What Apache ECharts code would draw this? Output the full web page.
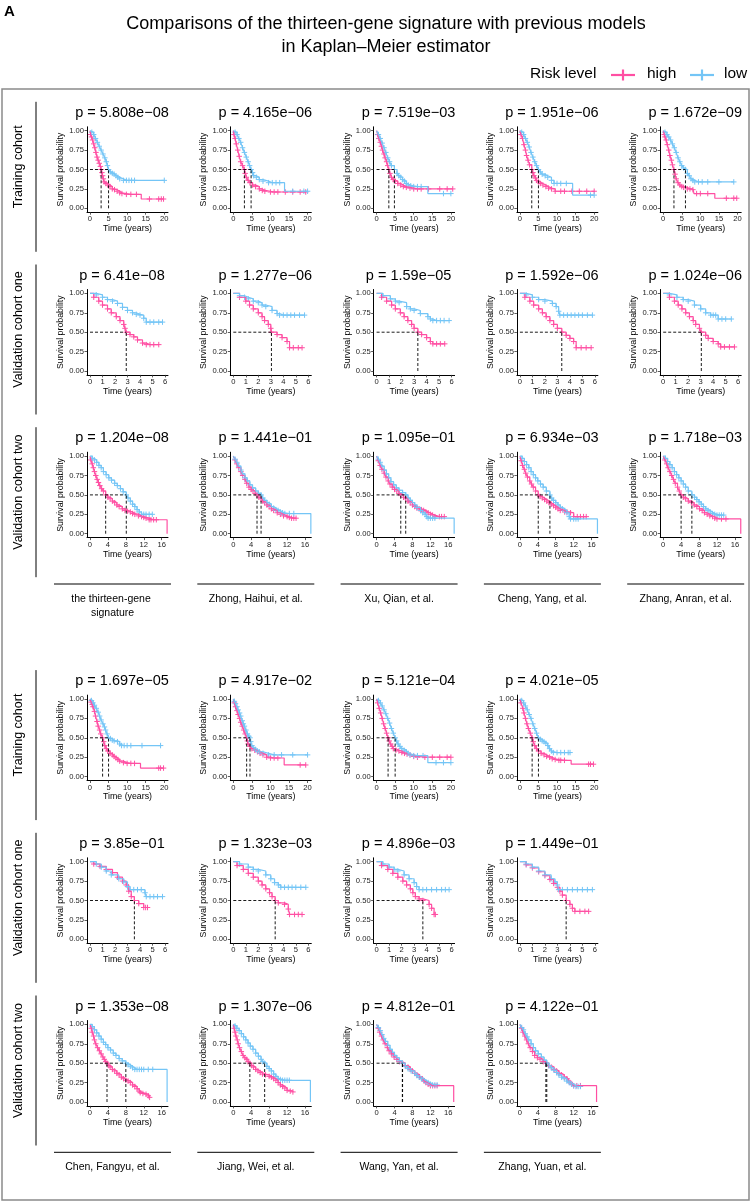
<!DOCTYPE html>
<html><head><meta charset="utf-8">
<script src="https://cdn.jsdelivr.net/npm/echarts@6.0.0/dist/echarts.min.js"></script>
<style>html,body{margin:0;padding:0;background:#fff}#c{width:752px;height:1203px}</style>
</head><body><div id="c"></div><script>
// ---------- DATA ----------
const models = ['the thirteen-gene signature','Zhong, Haihui, et al.','Xu, Qian, et al.','Cheng, Yang, et al.','Zhang, Anran, et al.','Chen, Fangyu, et al.','Jiang, Wei, et al.','Wang, Yan, et al.','Zhang, Yuan, et al.'];
const cohorts = ['Training cohort','Validation cohort one','Validation cohort two'];
const riskLevels = ['high','low'];
const ticksTrain = [0,5,10,15,20];
const ticksVal1 = [0,1,2,3,4,5,6];
const ticksVal2 = [0,4,8,12,16];
const yTicks = [0,0.25,0.5,0.75,1];
const pTrain = ['5.808e\u221208','4.165e\u221206','7.519e\u221203','1.951e\u221206','1.672e\u221209','1.697e\u221205','4.917e\u221202','5.121e\u221204','4.021e\u221205'];
const pVal1 = ['6.41e\u221208','1.277e\u221206','1.59e\u221205','1.592e\u221206','1.024e\u221206','3.85e\u221201','1.323e\u221203','4.896e\u221203','1.449e\u221201'];
const pVal2 = ['1.204e\u221208','1.441e\u221201','1.095e\u221201','6.934e\u221203','1.718e\u221203','1.353e\u221208','1.307e\u221206','4.812e\u221201','4.122e\u221201'];

// points: [time, survival] ; third value 0 = no censor mark
const highTrain = [
 [[0,1],[0.2,0.95],[0.4,0.92],[0.7,0.88],[1,0.83],[1.3,0.78],[1.6,0.72],[1.9,0.66],[2.2,0.62],[2.5,0.58],[2.8,0.54],[3,0.5],[3.2,0.46],[3.4,0.42],[3.6,0.38],[3.8,0.34],[4.3,0.32],[4.8,0.3],[5.4,0.28],[6,0.25],[6.6,0.24],[7.3,0.22],[8,0.2],[8.6,0.19],[9.8,0.18],[11,0.18],[12.5,0.18],[13.8,0.12,0],[16,0.12],[18.5,0.12],[19.2,0.12],[19.8,0.12]],
 [[0,1],[0.2,0.95],[0.5,0.9],[0.8,0.83],[1.2,0.75],[1.6,0.67],[2,0.6],[2.5,0.55],[3,0.5],[3.2,0.45],[3.5,0.4],[4,0.36],[4.5,0.33],[5.2,0.3],[6,0.28],[7,0.25],[7.8,0.23],[8.5,0.22],[10,0.21],[11,0.21],[12,0.21],[14,0.21],[16,0.21],[18,0.21],[19.5,0.21]],
 [[0,1],[0.3,0.95],[0.6,0.9],[1,0.85],[1.3,0.8],[1.6,0.75],[2,0.7],[2.3,0.65],[2.7,0.6],[3,0.55],[3.3,0.5],[3.6,0.45],[4,0.4],[4.5,0.37],[5,0.35],[5.7,0.32],[6.5,0.3],[7.2,0.28],[8,0.27],[9,0.26],[10,0.25],[11,0.25],[12,0.25],[14,0.25],[17,0.25],[19,0.25],[20.5,0.25]],
 [[0,1],[0.3,0.95],[0.7,0.9],[1.1,0.82],[1.5,0.75],[1.8,0.68],[2.2,0.62],[2.6,0.56],[3.2,0.5],[3.5,0.46],[3.8,0.42],[4.2,0.39],[4.5,0.36],[5,0.34],[5.5,0.32],[6.2,0.3],[7,0.28],[7.7,0.26],[8.5,0.25],[9.5,0.22],[11,0.22],[12,0.22],[14,0.22],[16,0.22],[18,0.22],[20,0.22]],
 [[0,1],[0.3,0.95],[0.5,0.92],[0.8,0.88],[1.1,0.82],[1.5,0.75],[1.8,0.68],[2.2,0.62],[2.5,0.56],[2.9,0.5],[3.2,0.44],[3.5,0.38],[4,0.33],[4.5,0.3],[5,0.28],[5.5,0.27],[6.5,0.25],[7.2,0.25],[8,0.24],[8.3,0.19,0],[9,0.19],[10,0.19],[12,0.19],[13.9,0.13,0],[17,0.13],[19,0.13],[19.8,0.13]],
 [[0,1],[0.3,0.96],[0.6,0.93],[0.8,0.9],[1.2,0.84],[1.5,0.78],[1.9,0.71],[2.2,0.65],[2.6,0.6],[2.9,0.55],[3.4,0.5],[3.7,0.45],[4,0.4],[4.4,0.36],[4.8,0.33],[5.4,0.3],[6,0.28],[6.5,0.26],[7,0.24],[7.5,0.22],[8,0.2],[9,0.18],[10,0.17],[11,0.17],[12,0.17],[13.6,0.11,0],[18.5,0.11],[19,0.11],[19.8,0.11]],
 [[0,1],[0.3,0.95],[0.6,0.9],[1,0.85],[1.3,0.8],[1.7,0.75],[2,0.7],[2.4,0.65],[2.8,0.6],[3.2,0.55],[3.6,0.5],[3.8,0.46],[4,0.42],[4.5,0.39],[5,0.36],[5.8,0.34],[6.5,0.32],[7.2,0.3],[8,0.28],[9,0.25],[10,0.24],[11,0.24],[12,0.24],[13.7,0.15,0],[18,0.15],[19.5,0.15]],
 [[0,1],[0.3,0.95],[0.7,0.88],[1.1,0.82],[1.5,0.75],[1.9,0.68],[2.3,0.62],[2.7,0.56],[3.1,0.5],[3.4,0.46],[3.8,0.42],[4.2,0.39],[4.5,0.36],[5.2,0.34],[6,0.33],[6.8,0.31],[7.5,0.3],[8.2,0.29],[9,0.28],[10,0.26],[11,0.25],[13,0.25],[15,0.25],[17,0.25],[19,0.25],[20,0.25]],
 [[0,1],[0.3,0.95],[0.8,0.88],[1.1,0.82],[1.5,0.75],[1.9,0.68],[2.3,0.62],[2.8,0.56],[3.3,0.5],[3.6,0.45],[4,0.4],[4.5,0.36],[5,0.33],[5.7,0.3],[6.5,0.28],[7.2,0.26],[8,0.25],[8.7,0.23],[9.5,0.22],[10.5,0.21],[11,0.21],[12,0.21],[13.8,0.16,0],[18.5,0.16],[19,0.16],[19.8,0.16]]
];
const lowTrain = [
 [[0,1],[0.5,0.98],[1,0.95],[1.5,0.9],[2,0.85],[2.5,0.8],[3,0.75],[3.5,0.7],[4,0.65],[4.4,0.6],[4.7,0.55],[5,0.5],[5.5,0.47],[6,0.45],[6.5,0.44],[7,0.42],[7.5,0.4],[8,0.38],[9,0.36],[9.8,0.36],[10.5,0.36],[11.2,0.36],[12,0.36],[20,0.36]],
 [[0,1],[0.5,0.98],[1,0.95],[1.5,0.9],[2,0.85],[2.5,0.78],[3,0.72],[3.5,0.66],[4,0.6],[4.4,0.55],[4.8,0.5],[5.2,0.46],[5.5,0.42],[6.2,0.4],[7,0.37],[8,0.35],[9.5,0.33],[10.5,0.33],[11.5,0.33],[12.5,0.33],[13.8,0.22,0],[16,0.22],[19,0.22],[20,0.22]],
 [[0,1],[0.5,0.95],[1,0.9],[1.5,0.84],[2,0.78],[2.5,0.72],[3,0.65],[3.5,0.6],[4,0.55],[4.8,0.5],[5.5,0.45],[6,0.42],[6.5,0.4],[7,0.37],[7.5,0.35],[8,0.32],[8.5,0.3],[9.2,0.29],[10,0.28],[11,0.28],[12,0.28],[13.8,0.19,0],[18,0.19],[20,0.19]],
 [[0,1],[0.5,0.98],[1,0.95],[1.5,0.9],[2,0.85],[2.5,0.79],[3,0.72],[3.5,0.66],[4,0.6],[4.5,0.55],[5,0.5],[5.5,0.47],[6,0.44],[6.8,0.42],[7.5,0.4],[8.5,0.36],[9.2,0.32],[10,0.32],[11,0.32],[12.5,0.32],[14.2,0.17,0],[19,0.17],[20,0.17]],
 [[0,1],[0.5,0.98],[1,0.95],[1.5,0.92],[2,0.88],[2.5,0.83],[3,0.78],[3.5,0.72],[4,0.65],[4.5,0.6],[5,0.55],[5.5,0.52],[6,0.5],[6.5,0.45],[7,0.42],[7.5,0.38],[8,0.36],[8.5,0.34],[9.5,0.34],[10.5,0.34],[12,0.34],[15,0.34],[19,0.34]],
 [[0,1],[0.4,0.98],[0.8,0.95],[1.2,0.92],[1.7,0.88],[2.2,0.83],[2.6,0.78],[3,0.73],[3.5,0.68],[3.9,0.64],[4.2,0.6],[4.6,0.55],[5,0.5],[5.5,0.49],[6,0.47],[6.5,0.46],[7.4,0.45],[8,0.42],[8.5,0.4],[9.2,0.4],[10,0.4],[11,0.4],[14,0.4],[19,0.4]],
 [[0,1],[0.3,0.97],[0.6,0.94],[1,0.9],[1.3,0.86],[1.7,0.82],[2,0.78],[2.4,0.72],[2.7,0.68],[3,0.65],[3.4,0.6],[3.8,0.55],[4.2,0.52],[4.5,0.5],[4.7,0.45],[5,0.4],[5.5,0.37],[6,0.35],[6.5,0.33],[7,0.32],[8,0.3],[9.5,0.28],[11,0.28],[13,0.28],[16,0.28],[20,0.28]],
 [[0,1],[0.5,0.98],[1,0.95],[1.5,0.91],[2,0.86],[2.5,0.81],[3,0.75],[3.5,0.69],[4,0.62],[4.5,0.56],[5,0.5],[5.4,0.46],[5.8,0.42],[6.3,0.39],[6.8,0.36],[7.4,0.34],[8,0.32],[8.5,0.3],[9,0.28],[10,0.27],[11,0.27],[12.5,0.27],[13.8,0.18,0],[16,0.18],[18,0.18],[20,0.18]],
 [[0,1],[0.5,0.98],[1,0.95],[1.5,0.91],[2,0.86],[2.5,0.8],[3,0.75],[3.5,0.68],[4,0.62],[4.5,0.56],[5,0.5],[5.5,0.48],[6,0.46],[6.5,0.45],[7,0.43],[7.5,0.4],[8,0.36],[8.5,0.33],[9,0.31],[10,0.31],[11,0.31],[12,0.31],[13,0.31],[13.5,0.31]]
];
const highVal1 = [
 [[0,1],[0.3,0.95],[0.7,0.9],[1.0,0.85],[1.4,0.8],[1.7,0.75],[2.1,0.7],[2.4,0.65],[2.7,0.6],[2.8,0.55],[2.9,0.5],[3.2,0.47],[3.5,0.44],[3.8,0.4],[4.2,0.36],[4.5,0.34],[4.8,0.34],[5.1,0.34],[5.5,0.34]],
 [[0,1],[0.5,0.95],[1,0.9],[1.3,0.85],[1.6,0.8],[2,0.75],[2.3,0.7],[2.5,0.65],[2.8,0.6],[3.0,0.55],[3.05,0.5],[3.5,0.47],[3.9,0.43],[4.3,0.38],[4.5,0.3],[4.8,0.3],[5.2,0.3],[5.5,0.3]],
 [[0,1],[0.4,0.95],[0.8,0.9],[1.2,0.85],[1.5,0.8],[1.9,0.75],[2.2,0.7],[2.5,0.65],[2.8,0.6],[3.0,0.55],[3.3,0.5],[3.6,0.47],[4,0.43],[4.3,0.38],[4.5,0.35],[4.8,0.35],[5.1,0.35],[5.45,0.35]],
 [[0,1],[0.4,0.95],[0.8,0.9],[1.1,0.85],[1.5,0.8],[1.8,0.75],[2.1,0.7],[2.4,0.65],[2.7,0.6],[3.0,0.55],[3.35,0.5],[3.7,0.46],[4.0,0.42],[4.3,0.38],[4.5,0.3],[4.9,0.3],[5.3,0.3],[5.7,0.3]],
 [[0,1],[0.5,0.95],[0.9,0.9],[1.2,0.85],[1.5,0.8],[1.8,0.75],[2.1,0.7],[2.4,0.65],[2.6,0.6],[2.9,0.55],[3.05,0.5],[3.4,0.46],[3.6,0.42],[4.0,0.38],[4.4,0.35],[4.6,0.31],[4.9,0.31],[5.3,0.31],[5.7,0.31]],
 [[0,1],[0.3,0.97],[0.8,0.94],[1.3,0.9],[1.8,0.86],[2.2,0.8],[2.6,0.75],[2.9,0.7],[3.1,0.62],[3.3,0.55],[3.55,0.5],[3.9,0.46],[4.3,0.41],[4.45,0.41],[4.6,0.41]],
 [[0,1],[0.3,0.95],[0.8,0.9],[1.2,0.85],[1.6,0.8],[2,0.75],[2.3,0.7],[2.6,0.65],[2.9,0.6],[3.1,0.55],[3.35,0.5],[3.6,0.47],[4.1,0.45],[4.4,0.39],[4.5,0.32],[4.9,0.32],[5.2,0.32],[5.5,0.32]],
 [[0,1],[0.4,0.95],[0.9,0.9],[1.3,0.85],[1.7,0.8],[2.1,0.75],[2.4,0.7],[2.7,0.65],[2.9,0.6],[3.1,0.55],[3.4,0.52],[3.7,0.5],[4.2,0.45],[4.4,0.4],[4.6,0.32],[4.7,0.32]],
 [[0,1],[0.5,0.96],[1,0.92],[1.5,0.87],[2,0.82],[2.4,0.77],[2.7,0.72],[3,0.67],[3.2,0.62],[3.4,0.57],[3.7,0.5],[4,0.45],[4.2,0.4],[4.4,0.36],[4.8,0.36],[5.2,0.36],[5.5,0.36]]
];
const lowVal1 = [
 [[0,1],[0.5,0.98],[1,0.95],[1.4,0.92],[1.8,0.9],[2.2,0.87],[2.6,0.82],[3,0.78],[3.4,0.75],[3.7,0.73],[4,0.72],[4.3,0.68],[4.5,0.63],[4.8,0.63],[5.1,0.63],[5.5,0.63],[5.8,0.63]],
 [[0,1],[0.5,0.97],[0.9,0.95],[1.2,0.93],[1.6,0.9],[2,0.88],[2.3,0.85],[2.6,0.83],[3.1,0.78],[3.5,0.74],[3.7,0.72],[4,0.72],[4.3,0.72],[4.6,0.72],[4.9,0.72],[5.3,0.72],[5.7,0.72]],
 [[0,1],[0.5,0.97],[1.1,0.93],[1.5,0.9],[1.8,0.88],[2.4,0.83],[2.7,0.8],[3,0.78],[3.5,0.74],[4.1,0.7],[4.3,0.67],[4.5,0.65],[4.8,0.65],[5.1,0.65],[5.4,0.65],[5.8,0.65]],
 [[0,1],[0.5,0.98],[1,0.95],[1.5,0.92],[2,0.9],[2.6,0.87],[2.9,0.83],[3.1,0.77],[3.2,0.72],[3.5,0.72],[3.8,0.72],[4.1,0.72],[4.4,0.72],[4.7,0.72],[5,0.72],[5.4,0.72],[5.8,0.72]],
 [[0,1],[0.5,0.98],[1.1,0.95],[1.6,0.92],[2,0.9],[2.5,0.85],[3,0.8],[3.4,0.75],[3.8,0.72],[4.0,0.72],[4.2,0.72],[4.4,0.67],[4.7,0.67],[5,0.67],[5.45,0.67]],
 [[0,1],[0.5,0.97],[0.9,0.93],[1.3,0.88],[1.7,0.83],[2.3,0.78],[2.7,0.74],[3,0.68],[3.2,0.64],[3.5,0.64],[3.8,0.64],[4.1,0.64],[4.4,0.6],[4.5,0.55],[4.8,0.55],[5.1,0.55],[5.4,0.55],[5.8,0.55]],
 [[0,1],[0.5,0.97],[1.2,0.93],[1.6,0.9],[2,0.88],[2.6,0.83],[3,0.78],[3.3,0.73],[3.6,0.7],[3.8,0.67],[4.1,0.67],[4.4,0.67],[4.7,0.67],[5,0.67],[5.4,0.67],[5.8,0.67]],
 [[0,1],[0.5,0.97],[1,0.93],[1.4,0.9],[1.7,0.88],[2.2,0.83],[2.6,0.78],[3,0.73],[3.2,0.68],[3.4,0.64],[3.7,0.64],[4,0.64],[4.4,0.64],[4.8,0.64],[5.2,0.64],[5.5,0.64],[5.8,0.64]],
 [[0,1],[0.5,0.97],[1,0.93],[1.5,0.88],[2,0.83],[2.5,0.78],[2.8,0.74],[3,0.7],[3.1,0.64],[3.4,0.64],[3.8,0.64],[4.2,0.64],[4.6,0.64],[5,0.64],[5.4,0.64],[5.8,0.64]]
];
const highVal2 = [
 [[0,1],[0.2,0.95],[0.5,0.9],[0.75,0.85],[1,0.8],[1.3,0.75],[1.6,0.7],[1.9,0.66],[2.2,0.62],[2.6,0.58],[3,0.55],[3.5,0.5],[4,0.47],[4.5,0.45],[5,0.42],[5.5,0.4],[6,0.37],[6.5,0.35],[7.2,0.32],[7.8,0.3],[8.4,0.29],[9,0.28],[9.5,0.26],[10,0.25],[10.8,0.23],[11.5,0.22],[12,0.21],[12.5,0.2],[13.2,0.18],[13.6,0.18],[14.2,0.18],[14.8,0.18],[17.2,0,0]],
 [[0,1],[0.4,0.95],[0.8,0.9],[1.2,0.85],[1.7,0.8],[2.1,0.75],[2.6,0.7],[3,0.65],[3.5,0.6],[4,0.57],[4.4,0.55],[4.9,0.52],[5.3,0.5],[5.7,0.47],[6.2,0.45],[6.6,0.42],[7,0.4],[7.5,0.37],[8,0.35],[8.5,0.32],[9,0.3],[9.8,0.27],[10.5,0.25],[11.2,0.23],[12,0.22],[12.5,0.21],[13,0.2],[13.5,0.2],[14,0.2]],
 [[0,1],[0.4,0.94],[0.8,0.88],[1.2,0.83],[1.7,0.78],[2.1,0.73],[2.6,0.68],[3,0.64],[3.5,0.6],[4,0.57],[4.5,0.55],[5,0.52],[5.4,0.5],[6,0.47],[6.5,0.45],[7,0.42],[7.5,0.4],[8,0.37],[8.5,0.35],[9,0.33],[9.5,0.32],[10,0.31],[10.5,0.3],[11,0.28],[11.5,0.27],[12,0.25],[12.5,0.24],[13,0.22],[14,0.22],[14.5,0.22],[15.1,0.22]],
 [[0,1],[0.3,0.94],[0.6,0.88],[1,0.83],[1.3,0.78],[1.7,0.73],[2.2,0.68],[2.6,0.64],[3,0.6],[3.5,0.55],[4.1,0.5],[4.5,0.48],[5,0.46],[5.5,0.44],[6,0.42],[6.5,0.4],[7,0.38],[7.5,0.36],[8,0.34],[8.5,0.32],[9,0.3],[10,0.28],[10.5,0.28],[11.3,0.27],[12,0.22],[12.8,0.22],[13.5,0.22],[14.2,0.22],[14.8,0.22]],
 [[0,1],[0.4,0.95],[0.8,0.9],[1.1,0.85],[1.5,0.8],[1.9,0.75],[2.3,0.7],[2.7,0.65],[3.2,0.6],[3.6,0.55],[4,0.5],[4.5,0.47],[5,0.45],[5.6,0.42],[6.3,0.4],[6.9,0.37],[7.5,0.35],[8.1,0.32],[8.7,0.3],[9.2,0.27],[9.8,0.25],[10.4,0.23],[11,0.22],[11.5,0.2],[12,0.19],[13,0.19],[14,0.19],[17.3,0,0]],
 [[0,1],[0.3,0.95],[0.5,0.9],[0.8,0.85],[1,0.8],[1.3,0.75],[1.7,0.7],[2.1,0.66],[2.5,0.62],[2.9,0.58],[3.2,0.55],[3.5,0.52],[3.8,0.5],[4.2,0.47],[4.5,0.45],[5,0.42],[5.5,0.4],[6,0.37],[6.5,0.35],[7,0.32],[7.5,0.3],[8,0.28],[8.5,0.27],[9,0.25],[9.5,0.22],[10,0.2],[10.5,0.17],[11,0.14],[11.2,0.12],[11.8,0.11],[12.5,0.1],[13,0.08],[13.3,0.06]],
 [[0,1],[0.2,0.95],[0.4,0.9],[0.6,0.85],[0.9,0.8],[1.1,0.75],[1.4,0.7],[1.8,0.65],[2.2,0.6],[2.6,0.57],[3,0.55],[3.3,0.52],[3.7,0.5],[4.1,0.47],[4.5,0.45],[5,0.42],[5.5,0.4],[6,0.38],[6.5,0.36],[7.2,0.35],[8,0.33],[8.5,0.32],[9,0.3],[9.5,0.28],[10,0.25],[10.5,0.22],[11,0.2],[11.5,0.18],[12,0.15],[12.7,0.14],[13.3,0.13]],
 [[0,1],[0.4,0.95],[0.7,0.9],[1.1,0.85],[1.5,0.8],[1.9,0.75],[2.4,0.7],[2.8,0.66],[3.3,0.62],[3.9,0.58],[4.5,0.55],[5.1,0.52],[5.8,0.5],[6.4,0.47],[7,0.45],[7.5,0.42],[8,0.4],[8.5,0.37],[9,0.35],[9.6,0.32],[10.2,0.3],[10.6,0.27],[11,0.25],[11.5,0.23],[12,0.21],[12.5,0.21],[13,0.21],[13.5,0.21],[17.2,0,0]],
 [[0,1],[0.4,0.95],[0.7,0.9],[1.1,0.85],[1.5,0.8],[1.9,0.75],[2.3,0.7],[2.8,0.65],[3.3,0.6],[3.9,0.57],[4.5,0.55],[5.2,0.52],[5.8,0.5],[6.4,0.47],[7,0.45],[7.6,0.42],[8.2,0.4],[8.7,0.37],[9.3,0.35],[9.9,0.32],[10.5,0.3],[10.9,0.27],[11.2,0.25],[11.6,0.23],[12,0.21],[12.7,0.21],[13.5,0.21],[17.1,0,0]]
];
const lowVal2 = [
 [[0,1],[0.5,0.97],[1,0.95],[1.5,0.92],[2,0.88],[2.5,0.85],[3,0.8],[3.6,0.76],[4.2,0.72],[4.8,0.69],[5.5,0.65],[6.1,0.62],[6.8,0.58],[7.4,0.54],[8.1,0.5],[8.5,0.46],[9,0.42],[9.5,0.38],[10,0.35],[10.5,0.31],[11,0.28],[11.5,0.25],[12,0.25],[12.5,0.25],[13.2,0.25],[13.9,0.25]],
 [[0,1],[0.4,0.96],[0.8,0.92],[1.2,0.87],[1.7,0.82],[2.1,0.77],[2.6,0.72],[3.1,0.68],[3.7,0.63],[4.3,0.59],[5,0.55],[5.6,0.52],[6.2,0.5],[6.6,0.46],[7,0.43],[7.5,0.4],[8,0.38],[8.5,0.35],[9,0.33],[9.5,0.31],[10,0.3],[10.5,0.28],[11,0.27],[11.5,0.26],[12.5,0.26],[13.5,0.26],[17.3,0,0]],
 [[0,1],[0.4,0.96],[0.8,0.92],[1.2,0.87],[1.7,0.82],[2.2,0.77],[2.7,0.72],[3.2,0.67],[3.8,0.63],[4.4,0.59],[5,0.56],[5.8,0.53],[6.5,0.5],[7,0.46],[7.5,0.43],[8,0.4],[8.5,0.37],[9,0.34],[9.8,0.3],[10.3,0.27],[10.8,0.25],[11.2,0.22],[11.5,0.2],[12,0.2],[12.5,0.2],[13,0.2],[17.3,0,0]],
 [[0,1],[0.5,0.97],[1,0.93],[1.5,0.89],[2,0.85],[2.5,0.8],[3,0.76],[3.5,0.72],[4,0.68],[4.6,0.64],[5.2,0.6],[5.9,0.55],[6.7,0.5],[7.1,0.46],[7.5,0.43],[8,0.4],[8.5,0.37],[9,0.34],[9.5,0.32],[10,0.3],[10.5,0.27],[11,0.22],[11.3,0.19],[12,0.19],[12.5,0.19],[13,0.19],[17.3,0,0]],
 [[0,1],[0.5,0.97],[1,0.93],[1.5,0.89],[2,0.85],[2.5,0.8],[3,0.76],[3.5,0.72],[4,0.68],[4.5,0.64],[5,0.6],[5.6,0.55],[6.4,0.5],[7,0.47],[7.5,0.44],[8,0.41],[8.5,0.38],[9,0.35],[9.5,0.32],[10,0.3],[10.5,0.28],[11,0.26],[11.5,0.25],[12,0.24],[12.5,0.24],[13,0.24],[13.5,0.24]],
 [[0,1],[0.5,0.97],[1,0.93],[1.5,0.89],[2,0.85],[2.5,0.81],[3,0.77],[3.5,0.74],[4,0.7],[4.6,0.67],[5.2,0.63],[5.8,0.6],[6.5,0.56],[7.2,0.53],[8,0.5],[8.5,0.48],[9,0.46],[9.5,0.44],[10,0.42],[10.5,0.42],[11,0.42],[11.5,0.42],[12,0.42],[13,0.42],[14,0.42],[17.2,0,0]],
 [[0,1],[0.4,0.98],[0.8,0.95],[1.3,0.92],[1.8,0.88],[2.3,0.84],[2.8,0.8],[3.3,0.76],[3.8,0.72],[4.4,0.68],[5,0.63],[5.6,0.59],[6.2,0.55],[6.6,0.52],[7,0.5],[7.5,0.46],[8,0.43],[8.5,0.4],[9,0.36],[9.5,0.33],[10,0.3],[10.5,0.29],[11,0.28],[11.5,0.28],[12,0.28],[12.5,0.28],[17.2,0,0]],
 [[0,1],[0.4,0.96],[0.8,0.92],[1.2,0.87],[1.6,0.82],[2,0.78],[2.5,0.73],[3,0.68],[3.5,0.64],[4,0.6],[4.5,0.57],[5.1,0.53],[5.75,0.5],[6.4,0.46],[7,0.43],[7.7,0.4],[8.5,0.37],[9,0.34],[9.5,0.32],[10,0.3],[10.5,0.28],[11,0.26],[11.5,0.25],[12,0.23],[12.5,0.22],[13,0.22],[13.5,0.22]],
 [[0,1],[0.4,0.96],[0.8,0.93],[1.2,0.88],[1.6,0.84],[2,0.8],[2.5,0.75],[3,0.7],[3.5,0.66],[4.1,0.62],[4.8,0.58],[5.4,0.54],[6,0.5],[6.5,0.47],[7,0.44],[7.6,0.41],[8.2,0.38],[8.7,0.35],[9.3,0.32],[9.9,0.3],[10.5,0.27],[11,0.25],[11.5,0.23],[12,0.21],[12.5,0.2],[13,0.2],[13.5,0.2]]
];

// ---------- LAYOUT / STYLE ----------
const FONT = '"Liberation Sans", Arial, Helvetica, sans-serif';
const PINK = '#FF4FA3', BLUE = '#74C5F6';
const cohortData = [
  {high: highTrain, low: lowTrain, p: pTrain, ticks: ticksTrain, xr: [-0.8, 21]},
  {high: highVal1, low: lowVal1, p: pVal1, ticks: ticksVal1, xr: [-0.24, 6.24]},
  {high: highVal2, low: lowVal2, p: pVal2, ticks: ticksVal2, xr: [-0.66, 17.4]}
];
const COL0 = 87, COLW = 143.3, PW = 81, PH = 85.4;
const BLOCK_TOP = [126.8, 695.1], ROWH = 162.7;
const PLUS = 'path://M5,0L5,10M0,5L10,5';

const grids = [], xAxes = [], yAxes = [], series = [], graphics = [];
function median(pts){ for (const p of pts) if (p[1] <= 0.5) return p[0]; return null; }
function addCurve(pts, color, gi){
  series.push({type:'line', xAxisIndex:gi, yAxisIndex:gi, step:'end', symbol:'none', silent:true,
    lineStyle:{color, width:1.2}, data: pts.map(p => [p[0], p[1]])});
  series.push({type:'scatter', xAxisIndex:gi, yAxisIndex:gi, symbol:PLUS, symbolSize:5.5, silent:true,
    itemStyle:{color:color, borderColor:color, borderWidth:1, opacity:1},
    data: pts.filter(p => p[2] !== 0 && p[0] !== 0).map(p => [p[0], p[1]])});
}
function dashed(data, gi){
  return {type:'line', xAxisIndex:gi, yAxisIndex:gi, symbol:'none', silent:true, z:5,
    lineStyle:{color:'#000', width:0.9, type:[3,2]}, data};
}

let gi = 0;
for (let b = 0; b < 2; b++) {
  const nCols = b === 0 ? 5 : 4;
  for (let r = 0; r < 3; r++) {
    const cd = cohortData[r];
    const top = BLOCK_TOP[b] + r * ROWH;
    for (let c = 0; c < nCols; c++) {
      const m = b * 5 + c;
      const left = COL0 + c * COLW;
      grids.push({left, top, width: PW, height: PH});
      xAxes.push({type:'value', gridIndex:gi, min:cd.xr[0], max:cd.xr[1],
        axisLine:{onZero:false, lineStyle:{color:'#000', width:1}},
        axisTick:{customValues:cd.ticks, length:2.5, lineStyle:{color:'#333', width:0.8}},
        axisLabel:{customValues:cd.ticks, fontSize:7.6, color:'#222', margin:3, fontFamily:FONT},
        splitLine:{show:false},
        name:'Time (years)', nameLocation:'middle', nameGap:12,
        nameTextStyle:{fontSize:8.8, color:'#000', fontFamily:FONT}});
      yAxes.push({type:'value', gridIndex:gi, min:-0.05, max:1.05,
        axisLine:{onZero:false, lineStyle:{color:'#000', width:1}},
        axisTick:{customValues:yTicks, length:2.5, lineStyle:{color:'#333', width:0.8}},
        axisLabel:{customValues:yTicks, fontSize:7.6, color:'#222', margin:3, fontFamily:FONT,
          formatter: v => v.toFixed(2)},
        splitLine:{show:false},
        name:'Survival probability', nameLocation:'middle', nameGap:22, nameRotate:90,
        nameTextStyle:{fontSize:8.8, color:'#000', fontFamily:FONT}});
      addCurve(cd.high[m], PINK, gi);
      addCurve(cd.low[m], BLUE, gi);
      const meds = [median(cd.high[m]), median(cd.low[m])].filter(v => v != null);
      if (meds.length) {
        series.push(dashed([[0,0.5],[Math.max(...meds),0.5]], gi));
        meds.forEach(v => series.push(dashed([[v,0],[v,0.5]], gi)));
      }
      graphics.push({type:'text', x:left+35, y:top-14, style:{text:'p = ' + cd.p[m], fontSize:14.5,
        fontFamily:FONT, fill:'#000', align:'center', verticalAlign:'middle'}});
      gi++;
    }
    graphics.push({type:'text', x:19, y:top+40, rotation:Math.PI/2, style:{text:cohorts[r], fontSize:12.5,
      fontFamily:FONT, fill:'#000', align:'center', verticalAlign:'middle'}});
    graphics.push({type:'line', shape:{x1:36, y1:top-25, x2:36, y2:top+125}, style:{stroke:'#000', lineWidth:1}});
  }
  const lineY = BLOCK_TOP[b] + 2 * ROWH + PH + 46.4;
  for (let c = 0; c < nCols; c++) {
    const left = COL0 + c * COLW;
    graphics.push({type:'line', shape:{x1:left-33, y1:lineY, x2:left+84, y2:lineY}, style:{stroke:'#000', lineWidth:1}});
    graphics.push({type:'text', x:left+25.5, y:lineY+8, style:{text:models[b*5+c], fontSize:10.5, width:117,
      overflow:'break', lineHeight:14, fontFamily:FONT, fill:'#000', align:'center', verticalAlign:'top'}});
  }
}
graphics.push({type:'rect', shape:{x:2, y:89, width:747, height:1111}, style:{fill:'none', stroke:'#8a8a8a', lineWidth:1.5}});
graphics.push({type:'text', x:4, y:4, style:{text:'A', fontSize:15, fontWeight:'bold', fontFamily:FONT, fill:'#000'}});
graphics.push({type:'text', x:386, y:24, style:{text:'Comparisons of the thirteen-gene signature with previous models', fontSize:18, fontFamily:FONT, fill:'#000', align:'center', verticalAlign:'middle'}});
graphics.push({type:'text', x:386, y:47, style:{text:'in Kaplan\u2013Meier estimator', fontSize:18, fontFamily:FONT, fill:'#000', align:'center', verticalAlign:'middle'}});
graphics.push({type:'text', x:530, y:74, style:{text:'Risk level', fontSize:15.5, fontFamily:FONT, fill:'#000', align:'left', verticalAlign:'middle'}});
const keyX = [611, 690], keyLbl = [647, 724], keyCol = [PINK, BLUE];
riskLevels.forEach((lv, i) => {
  graphics.push({type:'line', shape:{x1:keyX[i], y1:75, x2:keyX[i]+24, y2:75}, style:{stroke:keyCol[i], lineWidth:2.2}});
  graphics.push({type:'line', shape:{x1:keyX[i]+12, y1:69.5, x2:keyX[i]+12, y2:80.5}, style:{stroke:keyCol[i], lineWidth:2.2}});
  graphics.push({type:'text', x:keyLbl[i], y:74, style:{text:lv, fontSize:15.5, fontFamily:FONT, fill:'#000', align:'left', verticalAlign:'middle'}});
});

const chart = echarts.init(document.getElementById('c'), null, {renderer:'canvas'});
chart.setOption({animation:false, backgroundColor:'#fff', grid:grids, xAxis:xAxes, yAxis:yAxes, series, graphic:{elements:graphics}});
</script></body></html>
